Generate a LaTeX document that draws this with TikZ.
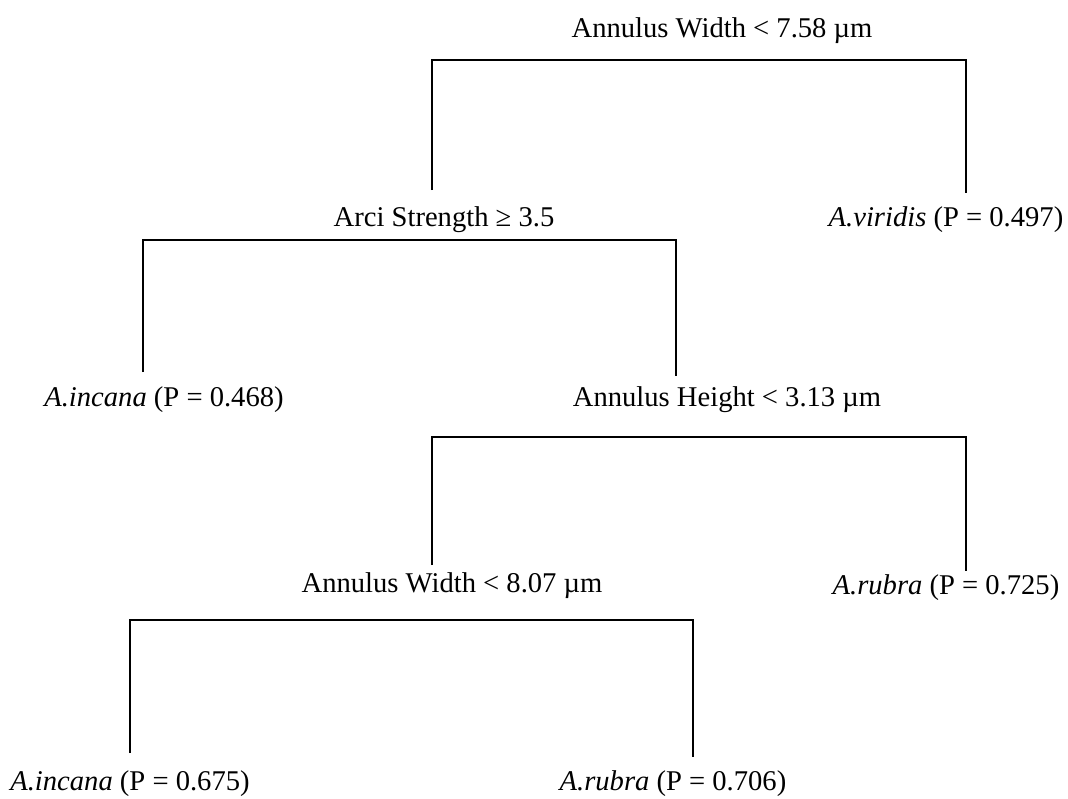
\documentclass[tikz,border=0pt]{standalone}
\usepackage{fontspec}
\setmainfont{Liberation Serif}
\usepackage{tikz}

\begin{document}
\begin{tikzpicture}[x=0.5pt,y=-0.5pt,font=\fontsize{14.3pt}{17pt}\selectfont]
\useasboundingbox (0,0) rectangle (1068,798);
\tikzset{lbl/.style={anchor=base,inner sep=0pt}}
% labels
\node [lbl] (root) at (722,37) {Annulus Width < 7.58 µm};
\node [lbl] (arci) at (444,226) {Arci Strength ≥ 3.5};
\node [lbl] (viridis) at (946,226) {\textit{A.viridis} (P = 0.497)};
\node [lbl] (incanaA) at (164,406) {\textit{A.incana} (P = 0.468)};
\node [lbl] (height) at (727,406) {Annulus Height < 3.13 µm};
\node [lbl] (width) at (452,592) {Annulus Width < 8.07 µm};
\node [lbl] (rubraA) at (946,594) {\textit{A.rubra} (P = 0.725)};
\node [lbl] (incanaB) at (130,790) {\textit{A.incana} (P = 0.675)};
\node [lbl] (rubraB) at (673,790) {\textit{A.rubra} (P = 0.706)};
% branch ends
\coordinate (arci-t) at (432,190);
\coordinate (viridis-t) at (966,193);
\coordinate (incanaA-t) at (143,372);
\coordinate (height-t) at (676,376);
\coordinate (width-t) at (432,565);
\coordinate (rubraA-t) at (966,571);
\coordinate (incanaB-t) at (130,753);
\coordinate (rubraB-t) at (693,757);
% bar levels
\coordinate (root-bar) at (0,60);
\coordinate (arci-bar) at (0,240);
\coordinate (height-bar) at (0,437);
\coordinate (width-bar) at (0,620);
\draw [black, semithick] (arci-t) -- (arci-t |- root-bar) -- (viridis-t |- root-bar) -- (viridis-t);
\draw [black, semithick] (incanaA-t) -- (incanaA-t |- arci-bar) -- (height-t |- arci-bar) -- (height-t);
\draw [black, semithick] (width-t) -- (width-t |- height-bar) -- (rubraA-t |- height-bar) -- (rubraA-t);
\draw [black, semithick] (incanaB-t) -- (incanaB-t |- width-bar) -- (rubraB-t |- width-bar) -- (rubraB-t);
\end{tikzpicture}
\end{document}
